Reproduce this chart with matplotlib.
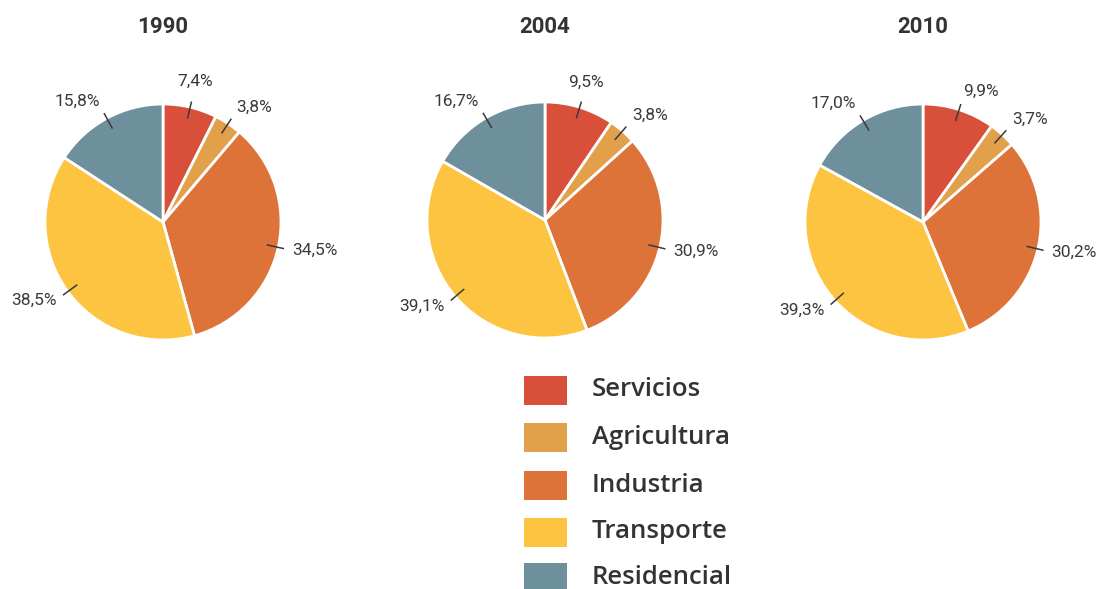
import numpy as np
import matplotlib
matplotlib.use("Agg")
import matplotlib.pyplot as plt
from matplotlib.patches import Rectangle

plt.rcParams['font.family'] = ['Roboto', 'DejaVu Sans']

categories = ["Servicios", "Agricultura", "Industria", "Transporte", "Residencial"]
years = ["1990", "2004", "2010"]
values_1990 = [7.4, 3.8, 34.5, 38.5, 15.8]
values_2004 = [9.5, 3.8, 30.9, 39.1, 16.7]
values_2010 = [9.9, 3.7, 30.2, 39.3, 17.0]
labels_1990 = ["7,4%", "3,8%", "34,5%", "38,5%", "15,8%"]
labels_2004 = ["9,5%", "3,8%", "30,9%", "39,1%", "16,7%"]
labels_2010 = ["9,9%", "3,7%", "30,2%", "39,3%", "17,0%"]
colors = ["#D9503A", "#E3A04A", "#DE733A", "#FDC441", "#6E8F9C"]

W, H = 1105, 589
fig = plt.figure(figsize=(W / 100, H / 100), dpi=100)
fig.patch.set_facecolor("white")

centers = [(163, 222), (545, 220), (923, 222)]
R = 118
box = 300
text_col = "#3a3a3a"

all_vals = [values_1990, values_2004, values_2010]
all_labs = [labels_1990, labels_2004, labels_2010]

for (cx, cy), yr, vals, labs in zip(centers, years, all_vals, all_labs):
    ax = fig.add_axes([(cx - box / 2) / W, 1 - (cy + box / 2) / H, box / W, box / H])
    lim = box / 2 / R
    wedges, _ = ax.pie(vals, colors=colors, startangle=90, counterclock=False,
                       radius=1, wedgeprops=dict(edgecolor="white", linewidth=2))
    ax.set_xlim(-lim, lim)
    ax.set_ylim(-lim, lim)
    ax.set_aspect("equal")
    ax.axis("off")
    for w, lab in zip(wedges, labs):
        ang = np.deg2rad((w.theta1 + w.theta2) / 2)
        c, s = np.cos(ang), np.sin(ang)
        ax.plot([0.9 * c, 1.05 * c], [0.9 * s, 1.05 * s], color=text_col, lw=1.1,
                solid_capstyle="butt")
        if c > 0.3:
            ha = "left"
        elif c < -0.3:
            ha = "right"
        else:
            ha = "center"
        r = 1.12 if ha != "center" else 1.18
        ax.text(r * c, r * s + (0.04 if s > 0.5 else 0), lab, ha=ha, va="center",
                fontsize=12.5, color=text_col)
    fig.text(cx / W, 1 - 27 / H, yr, ha="center", va="center", fontsize=16,
             fontweight="bold", color="#333333")

# legend
row_y = [390, 437, 485, 532, 578]
for cat, col, yy in zip(categories, colors, row_y):
    fig.patches.append(Rectangle((524 / W, 1 - (yy + 14.5) / H), 43 / W, 29 / H,
                                 transform=fig.transFigure, facecolor=col,
                                 edgecolor="none"))
    fig.text(592 / W, 1 - yy / H, cat, ha="left", va="center", fontsize=18.5,
             fontweight="semibold", color="#333333",
             family=["Open Sans", "DejaVu Sans"])

fig.savefig("out.png", dpi=100, facecolor="white")
